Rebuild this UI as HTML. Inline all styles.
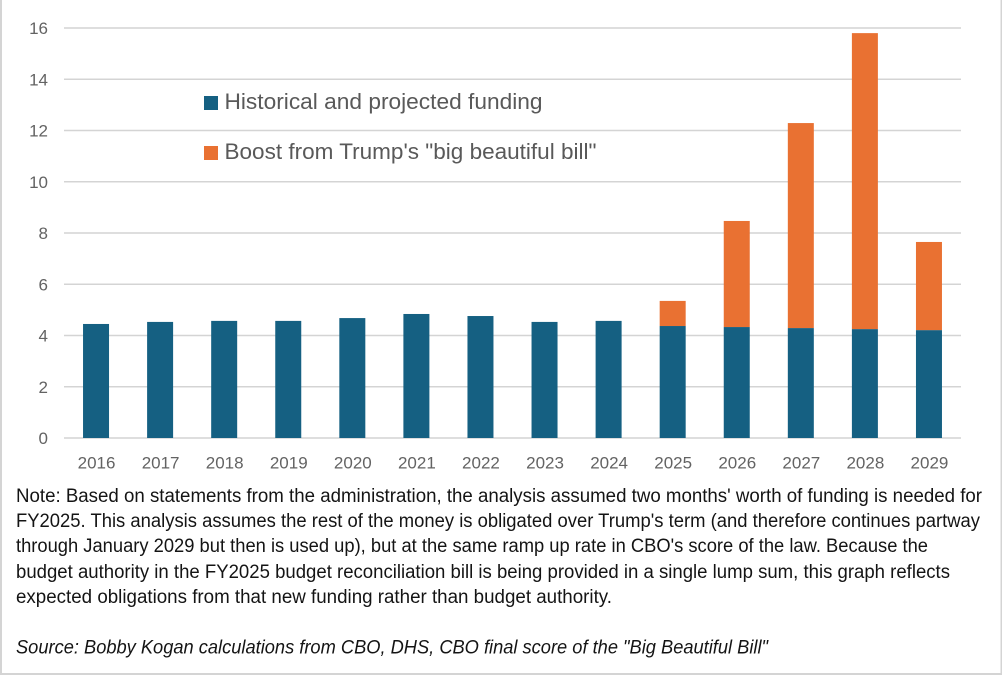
<!DOCTYPE html>
<html>
<head>
<meta charset="utf-8">
<style>
html,body{margin:0;padding:0;background:#fff;}
svg{display:block;}
text{font-family:"Liberation Sans",sans-serif;}
</style>
</head>
<body>
<svg id="chart" xmlns="http://www.w3.org/2000/svg" width="1002" height="675" viewBox="0 0 1002 675">
  <rect x="0" y="0" width="1002" height="675" fill="#fff"/>
  <rect x="0" y="0" width="2" height="675" fill="#d4d4d4"/>
  <rect x="1000.5" y="0" width="1.5" height="675" fill="#d4d4d4"/>
  <rect x="0" y="673" width="1002" height="2" fill="#d4d4d4"/>
  <g id="grid"></g>
  <g id="yticks"></g>
  <g id="bars"></g>
  <g id="xticks"></g>

  <g>
    <g>
      <rect x="204" y="96" width="14" height="14" fill="#156082"/>
      <text x="224.5" y="109" font-size="22" fill="#595959" textLength="318" lengthAdjust="spacingAndGlyphs">Historical and projected funding</text>
    </g>
    <g>
      <rect x="204" y="146" width="14" height="14" fill="#E97132"/>
      <text x="224.5" y="159" font-size="22" fill="#595959" textLength="372" lengthAdjust="spacingAndGlyphs">Boost from Trump's "big beautiful bill"</text>
    </g>
  </g>

  <g font-size="19" fill="#141414">
    <text x="16" y="502" textLength="966" lengthAdjust="spacingAndGlyphs">Note: Based on statements from the administration, the analysis assumed two months' worth of funding is needed for</text>
    <text x="16" y="527" textLength="964" lengthAdjust="spacingAndGlyphs">FY2025. This analysis assumes the rest of the money is obligated over Trump's term (and therefore continues partway</text>
    <text x="16" y="552" textLength="912" lengthAdjust="spacingAndGlyphs">through January 2029 but then is used up), but at the same ramp up rate in CBO's score of the law. Because the</text>
    <text x="16" y="578" textLength="934" lengthAdjust="spacingAndGlyphs">budget authority in the FY2025 budget reconciliation bill is being provided in a single lump sum, this graph reflects</text>
    <text x="16" y="603" textLength="596" lengthAdjust="spacingAndGlyphs">expected obligations from that new funding rather than budget authority.</text>
    <text x="16" y="653.5" font-style="italic" textLength="752" lengthAdjust="spacingAndGlyphs">Source: Bobby Kogan calculations from CBO, DHS, CBO final score of the "Big Beautiful Bill"</text>
  </g>
</svg>
<script>
const categories = ['2016','2017','2018','2019','2020','2021','2022','2023','2024','2025','2026','2027','2028','2029'];
const historicalFunding = [4.45,4.53,4.57,4.57,4.68,4.84,4.76,4.53,4.57,4.37,4.33,4.29,4.25,4.21];
const billBoost = [0,0,0,0,0,0,0,0,0,0.98,4.14,8.0,11.55,3.44];
const yTickValues = [0,2,4,6,8,10,12,14,16];

const NS = 'http://www.w3.org/2000/svg';
const plotLeft = 64, plotRight = 961, plotTop = 28, plotBottom = 438, yMax = 16;
const barWidth = 26;
const colorHistorical = '#156082', colorBoost = '#E97132';

function yScale(v){ return plotBottom - (v / yMax) * (plotBottom - plotTop); }
function xCenter(i){ return plotLeft + (i + 0.5) * (plotRight - plotLeft) / categories.length; }
function make(tag, attrs, parent){
  const el = document.createElementNS(NS, tag);
  for (const k in attrs) el.setAttribute(k, attrs[k]);
  parent.appendChild(el);
  return el;
}

const gridG = document.getElementById('grid');
const yG = document.getElementById('yticks');
const barsG = document.getElementById('bars');
const xG = document.getElementById('xticks');

yTickValues.forEach(function(v){
  const line = make('line', {x1: plotLeft, x2: plotRight, y1: yScale(v), y2: yScale(v), stroke: '#d4d4d4', 'stroke-width': 1.5}, gridG);
  
  
  const label = make('text', {x: 48, y: yScale(v) + 6, 'text-anchor': 'end', 'font-size': 17, fill: '#636363'}, yG);
  label.textContent = String(v);
  
  
});

categories.forEach(function(c, i){
  const cx = xCenter(i);
  const h = historicalFunding[i], b = billBoost[i];
  const r1 = make('rect', {x: cx - barWidth / 2, y: yScale(h), width: barWidth, height: yScale(0) - yScale(h), fill: colorHistorical}, barsG);
  
  
  if (b > 0) {
    const r2 = make('rect', {x: cx - barWidth / 2, y: yScale(h + b), width: barWidth, height: yScale(h) - yScale(h + b), fill: colorBoost}, barsG);
    
    
  }
  const label = make('text', {x: cx + 0.5, y: 468.5, 'text-anchor': 'middle', 'font-size': 17, fill: '#636363'}, xG);
  label.textContent = c;
  
  
});
</script>
</body>
</html>
